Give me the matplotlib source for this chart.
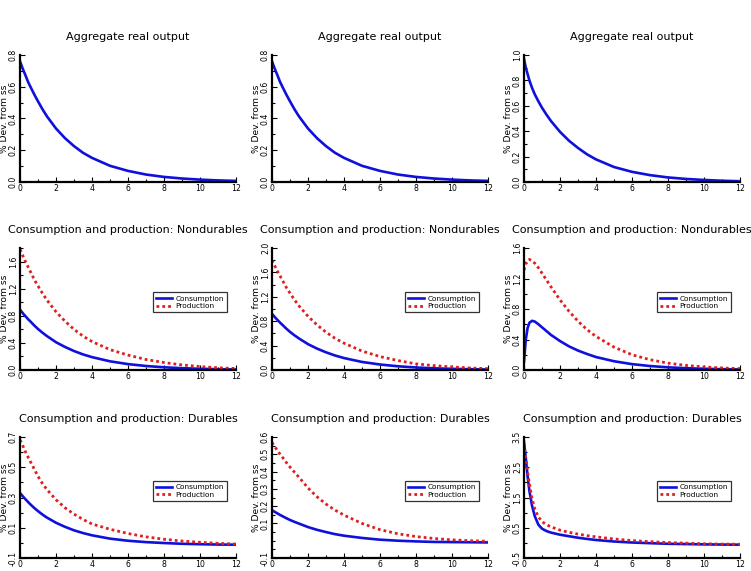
import numpy as np
import matplotlib
matplotlib.use("Agg")
import matplotlib.pyplot as plt
from matplotlib.ticker import MultipleLocator, FixedLocator

# ----------------------- data -----------------------
t = [0, 0.1, 0.2, 0.3, 0.45, 0.6, 0.8, 1.0, 1.25, 1.5, 2, 2.5, 3, 3.5, 4,
     5, 6, 7, 8, 9, 10, 11, 12]

# row 1: aggregate real output
agg_1 = [0.760, 0.729, 0.700, 0.673, 0.630, 0.595, 0.550, 0.508, 0.458, 0.413,
         0.337, 0.276, 0.226, 0.184, 0.152, 0.102, 0.070, 0.047, 0.032, 0.022,
         0.015, 0.010, 0.007]
agg_2 = [0.760, 0.729, 0.700, 0.673, 0.630, 0.595, 0.550, 0.508, 0.458, 0.413,
         0.337, 0.276, 0.226, 0.184, 0.152, 0.102, 0.070, 0.047, 0.032, 0.022,
         0.015, 0.010, 0.007]
agg_3 = [0.970, 0.900, 0.850, 0.800, 0.740, 0.690, 0.635, 0.585, 0.530, 0.480,
         0.395, 0.325, 0.268, 0.218, 0.178, 0.118, 0.080, 0.054, 0.036, 0.024,
         0.016, 0.010, 0.006]

# row 2: nondurables
nd_cons_1 = [0.890, 0.857, 0.824, 0.795, 0.750, 0.710, 0.655, 0.605, 0.550, 0.500,
             0.410, 0.340, 0.280, 0.230, 0.190, 0.128, 0.087, 0.059, 0.040, 0.027,
             0.018, 0.012, 0.008]
nd_prod_1 = [1.780, 1.720, 1.660, 1.600, 1.520, 1.440, 1.330, 1.240, 1.130, 1.030,
             0.860, 0.720, 0.600, 0.500, 0.420, 0.300, 0.220, 0.155, 0.110, 0.075,
             0.050, 0.033, 0.022]
nd_cons_2 = [0.920, 0.886, 0.852, 0.822, 0.776, 0.734, 0.677, 0.625, 0.568, 0.517,
             0.424, 0.351, 0.290, 0.238, 0.196, 0.132, 0.090, 0.061, 0.041, 0.028,
             0.019, 0.013, 0.008]
nd_prod_2 = [1.800, 1.740, 1.680, 1.620, 1.540, 1.460, 1.350, 1.260, 1.150, 1.050,
             0.880, 0.740, 0.620, 0.520, 0.440, 0.310, 0.220, 0.155, 0.100, 0.072,
             0.050, 0.033, 0.022]
nd_cons_3 = [0.110, 0.400, 0.550, 0.620, 0.645, 0.635, 0.600, 0.560, 0.510, 0.460,
             0.380, 0.310, 0.255, 0.210, 0.170, 0.115, 0.077, 0.052, 0.035, 0.024,
             0.016, 0.011, 0.007]
nd_prod_3 = [1.310, 1.400, 1.440, 1.450, 1.430, 1.400, 1.340, 1.270, 1.180, 1.090,
             0.920, 0.770, 0.640, 0.530, 0.440, 0.300, 0.200, 0.135, 0.090, 0.060,
             0.040, 0.027, 0.018]

# row 3: durables
du_cons_1 = [0.330, 0.316, 0.302, 0.289, 0.270, 0.252, 0.230, 0.210, 0.187, 0.167,
             0.133, 0.106, 0.083, 0.065, 0.050, 0.028, 0.014, 0.005, -0.001, -0.006,
             -0.009, -0.011, -0.012]
du_prod_1 = [0.680, 0.659, 0.630, 0.602, 0.567, 0.532, 0.486, 0.440, 0.392, 0.352,
             0.285, 0.232, 0.190, 0.155, 0.125, 0.090, 0.062, 0.040, 0.024, 0.012,
             0.004, -0.003, -0.008]
du_cons_2 = [0.177, 0.170, 0.164, 0.158, 0.149, 0.141, 0.130, 0.120, 0.109, 0.099,
             0.079, 0.063, 0.050, 0.038, 0.029, 0.016, 0.006, 0.000, -0.004, -0.007,
             -0.008, -0.009, -0.010]
du_prod_2 = [0.568, 0.552, 0.537, 0.522, 0.500, 0.480, 0.452, 0.426, 0.396, 0.367,
             0.305, 0.254, 0.212, 0.177, 0.148, 0.100, 0.064, 0.040, 0.024, 0.013,
             0.005, 0.000, -0.003]
du_cons_3 = [3.340, 2.800, 2.200, 1.720, 1.220, 0.880, 0.600, 0.470, 0.390, 0.340,
             0.270, 0.220, 0.170, 0.130, 0.095, 0.045, 0.012, -0.010, -0.030, -0.040,
             -0.050, -0.055, -0.060]
du_prod_3 = [3.280, 2.800, 2.350, 1.950, 1.450, 1.120, 0.860, 0.700, 0.600, 0.530,
             0.420, 0.350, 0.290, 0.240, 0.200, 0.130, 0.076, 0.040, 0.010, -0.010,
             -0.030, -0.040, -0.045]

titles = ["Aggregate real output",
          "Consumption and production: Nondurables",
          "Consumption and production: Durables"]

# y range and major step for every panel
ylims = [[(0, 0.8), (0, 0.8), (0, 1.0)],
         [(0, 1.8), (0, 2.0), (0, 1.6)],
         [(-0.1, 0.7), (-0.1, 0.6), (-0.5, 3.5)]]
ymajor = [[0.2, 0.2, 0.2],
          [0.4, 0.4, 0.4],
          [0.2, 0.1, 1.0]]
yticks_durables = [[-0.1, 0.1, 0.3, 0.5, 0.7],
                   [-0.1, 0.1, 0.2, 0.3, 0.4, 0.5, 0.6],
                   [-0.5, 0.5, 1.5, 2.5, 3.5]]

BLUE = "#1010dc"
RED = "#e01e1e"

fig = plt.figure(figsize=(7.51, 5.71), dpi=100)

col_left = [20, 272, 524]
col_w = 216
row_top = [55, 248, 437]
row_bot = [182, 370, 558]
W, H = 751, 571

series = [[(agg_1, None), (agg_2, None), (agg_3, None)],
          [(nd_cons_1, nd_prod_1), (nd_cons_2, nd_prod_2), (nd_cons_3, nd_prod_3)],
          [(du_cons_1, du_prod_1), (du_cons_2, du_prod_2), (du_cons_3, du_prod_3)]]

for r in range(3):
    for c in range(3):
        ax = fig.add_axes([col_left[c] / W, 1 - row_bot[r] / H,
                           col_w / W, (row_bot[r] - row_top[r]) / H])
        cons, prod = series[r][c]
        ax.plot(t, cons, color=BLUE, lw=1.9, label="Consumption")
        if prod is not None:
            ax.plot(t, prod, color=RED, lw=2.0, linestyle=(0, (1, 1.1)),
                    label="Production")
            leg = ax.legend(loc="center left", bbox_to_anchor=(0.615, 0.555),
                            fontsize=5.3, frameon=True, fancybox=False,
                            handlelength=2.2, handletextpad=0.5,
                            borderpad=0.4, labelspacing=0.2,
                            borderaxespad=0)
            leg.get_frame().set_edgecolor("black")
            leg.get_frame().set_linewidth(0.9)

        ax.set_xlim(0, 12)
        ax.set_ylim(*ylims[r][c])
        ax.xaxis.set_major_locator(MultipleLocator(2))
        ax.xaxis.set_minor_locator(MultipleLocator(1))
        step = ymajor[r][c]
        if r < 2:
            ax.yaxis.set_major_locator(MultipleLocator(step))
        else:
            ax.yaxis.set_major_locator(FixedLocator(yticks_durables[c]))
        ax.yaxis.set_minor_locator(MultipleLocator(step / 2))
        ax.yaxis.set_major_formatter(plt.FormatStrFormatter("%.1f"))

        for side in ("top", "right"):
            ax.spines[side].set_visible(False)
        for side in ("left", "bottom"):
            ax.spines[side].set_linewidth(1.6)
        ax.tick_params(which="both", direction="in", labelsize=5.6, pad=1.5,
                       width=0.8)
        ax.tick_params(which="major", length=3.5)
        ax.tick_params(which="minor", length=2)
        for lab in ax.get_yticklabels():
            lab.set_rotation(90)
            lab.set_va("center")
        ax.set_ylabel("% Dev. from ss", fontsize=6.6)
        ax.yaxis.set_label_coords(-0.053, 0.5)
        ax.set_title(titles[r], fontsize=8, pad=11)

fig.savefig("out.png", dpi=100)
